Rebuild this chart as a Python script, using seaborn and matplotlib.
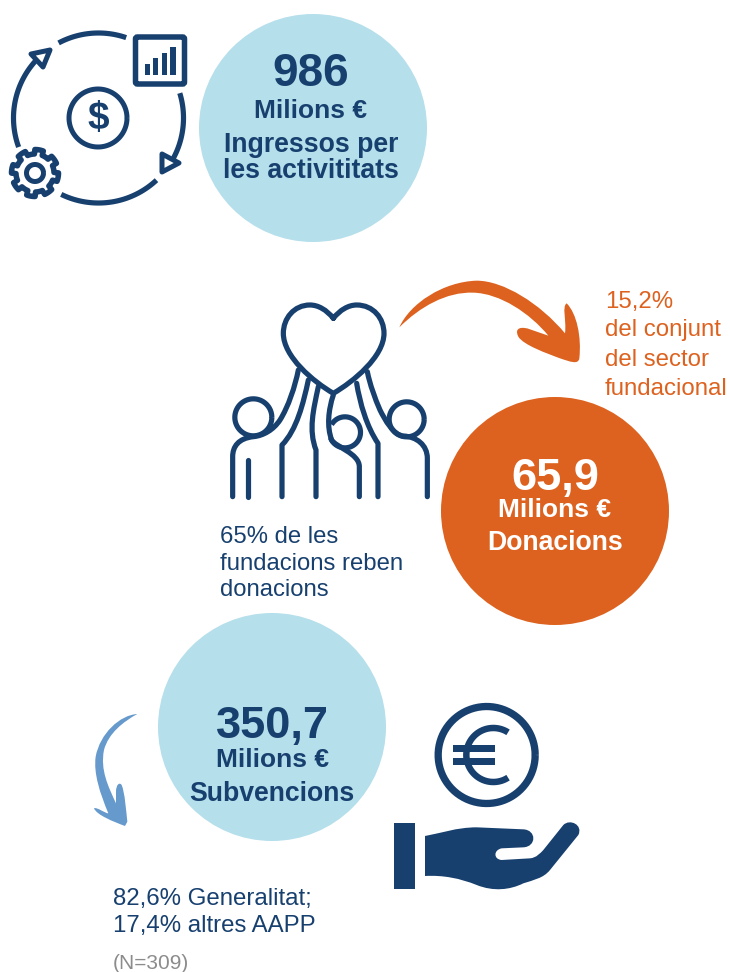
import numpy as np
import pandas as pd
import seaborn as sns
import matplotlib.pyplot as plt
from matplotlib.path import Path
from matplotlib.patches import PathPatch, Polygon, FancyBboxPatch, Rectangle

# Data
concepts = ["Ingressos per\nles activititats", "Donacions", "Subvencions"]
values = [986, 65.9, 350.7]
unit = "Milions €"
donation_note = ["15,2%", "del conjunt", "del sector", "fundacional"]
share_note = ["65% de les", "fundacions reben", "donacions"]
public_note = ["82,6% Generalitat;", "17,4% altres AAPP"]
sample_note = "(N=309)"

# Colours
NAVY = "#17406F"
LIGHT = "#B5DFEB"
ORANGE = "#DD621F"
BLUE_ARROW = "#6699CC"
GREY = "#8C8C8C"

# Layout, in pixels of the 730x972 picture
circle_x = [313, 555, 272]
circle_y = [128, 511, 727]
circle_colors = [LIGHT, ORANGE, LIGHT]
PX = 0.72  # points per pixel at dpi 100

sns.set_theme(style="white")
plt.rcParams["font.family"] = ["Liberation Sans", "DejaVu Sans"]

fig, ax = plt.subplots(figsize=(7.3, 9.72), dpi=100)
fig.subplots_adjust(0, 0, 1, 1)

df = pd.DataFrame({"concept": concepts, "value": values, "x": circle_x, "y": circle_y})
sns.scatterplot(data=df, x="x", y="y", hue="concept", palette=circle_colors,
                s=(228 * PX) ** 2, linewidth=0, legend=False, ax=ax, zorder=1)
ax.set_xlim(0, 730)
ax.set_ylim(972, 0)
ax.set_axis_off()


def bezier(d, ox, oy, k=1 / 3):
    # d is a list of "M", "L", "C" commands with points in zoomed crop pixels
    verts, codes = [], []
    for cmd, *pts in d:
        pts = [(ox + px * k, oy + py * k) for px, py in pts]
        verts += pts
        if cmd == "M":
            codes.append(Path.MOVETO)
        elif cmd == "L":
            codes.append(Path.LINETO)
        else:
            codes += [Path.CURVE4] * 3
    return Path(verts, codes)


def stroke(d, ox, oy, lw=5.2, color=NAVY):
    ax.add_patch(PathPatch(bezier(d, ox, oy), fc="none", ec=color, lw=lw * PX,
                           capstyle="round", joinstyle="round", zorder=3))


def fill(d, ox, oy, color):
    ax.add_patch(PathPatch(bezier(d, ox, oy), fc=color, ec="none", zorder=3))


def arc(cx, cy, r, a0, a1, lw=5.2, color=NAVY):
    t = np.radians(np.linspace(a0, a1, 80))
    ax.plot(cx + r * np.cos(t), cy + r * np.sin(t), color=color, lw=lw * PX,
            solid_capstyle="butt", zorder=3)


# Cycle icon, top left
arc(98.5, 118, 85, -118, -71)
arc(98.5, 118, 85, -17, 31)
arc(98.5, 118, 85, 47, 116)
arc(98.5, 118, 85, 160, 222)
for tri in ([(162, 154), (179, 163), (162, 172)], [(31, 54), (50, 50), (43, 67)]):
    ax.add_patch(Polygon(tri, closed=True, fc="white", ec=NAVY, lw=5 * PX, joinstyle="round", zorder=3))
ax.add_patch(FancyBboxPatch((135.5, 37), 49, 47, boxstyle="round,pad=0,rounding_size=2",
                            fc="white", ec=NAVY, lw=5.5 * PX, zorder=3))
for x0, x1, top in [(145, 150, 64), (153, 158, 58), (162, 167, 53), (170, 176, 47)]:
    ax.add_patch(Rectangle((x0, top), x1 - x0, 75 - top, fc=NAVY, ec="none", zorder=4))
arc(98, 118, 29, 0, 360, lw=5)
ax.text(98, 119, "$", ha="center", va="center", color=NAVY, fontsize=28, fontweight="bold", zorder=4)

# Gear
teeth = 8
ang = np.linspace(0, 2 * np.pi, 8 * 30, endpoint=False)
phase = (ang * teeth / (2 * np.pi)) % 1
rad = np.where((phase < 0.36) | (phase > 0.84), 23.5, 19)
ax.add_patch(Polygon(np.column_stack([35 + rad * np.cos(ang + 0.1), 173 + rad * np.sin(ang + 0.1)]),
                     closed=True, fc="white", ec=NAVY, lw=5.5 * PX, joinstyle="round", zorder=3))
arc(35, 173, 8.5, 0, 360, lw=5)

# Heart and people icon
O2 = (220, 270)
stroke([("M", (340, 145)), ("C", (360, 120), (385, 105), (410, 105)),
        ("C", (460, 105), (492, 145), (492, 190)), ("C", (492, 260), (400, 335), (340, 370)),
        ("C", (280, 335), (190, 260), (190, 190)), ("C", (190, 145), (222, 105), (270, 105)),
        ("C", (295, 105), (320, 120), (340, 145))], *O2)
arc(220 + 100 / 3, 270 + 442 / 3, 18.5, 0, 360)
arc(220 + 560 / 3, 270 + 448 / 3, 17.5, 0, 360)
arc(220 + 375 / 3, 270 + 487 / 3, 15.5, -150, 160)
stroke([("M", (38, 680)), ("L", (38, 560)), ("C", (38, 530), (55, 505), (100, 500)),
        ("C", (130, 497), (160, 480), (180, 450)), ("C", (205, 410), (225, 350), (235, 300))], *O2)
stroke([("M", (83, 570)), ("L", (83, 680))], *O2)
stroke([("M", (186, 680)), ("L", (186, 525)), ("C", (230, 480), (250, 400), (265, 330))], *O2)
stroke([("M", (288, 680)), ("L", (288, 540)), ("C", (265, 480), (280, 420), (295, 350))], *O2)
stroke([("M", (340, 375)), ("C", (325, 420), (320, 470), (335, 510)),
        ("C", (345, 530), (418, 550), (418, 590)), ("L", (418, 680))], *O2)
stroke([("M", (474, 680)), ("L", (474, 520)), ("C", (440, 470), (420, 400), (410, 340))], *O2)
stroke([("M", (622, 680)), ("L", (622, 565)), ("C", (622, 525), (590, 500), (550, 498)),
        ("C", (520, 495), (495, 450), (480, 420)), ("C", (465, 385), (450, 345), (442, 305))], *O2)

# Curved arrows
fill([("M", (28, 172)), ("C", (60, 100), (160, 35), (260, 32)), ("C", (340, 32), (450, 100), (525, 190)),
      ("C", (530, 150), (515, 110), (530, 100)), ("C", (560, 130), (575, 200), (568, 265)),
      ("C", (565, 285), (540, 275), (510, 265)), ("C", (470, 250), (400, 225), (385, 200)),
      ("C", (370, 170), (400, 170), (420, 178)), ("L", (475, 197)),
      ("C", (420, 130), (330, 70), (250, 68)), ("C", (170, 65), (90, 110), (28, 172))], 390, 270, ORANGE)
fill([("M", (172, 42)), ("C", (120, 45), (60, 100), (47, 170)), ("C", (40, 220), (60, 280), (85, 340)),
      ("C", (75, 340), (50, 320), (42, 325)), ("C", (50, 345), (100, 365), (135, 378)), ("L", (142, 365)),
      ("C", (138, 330), (135, 280), (125, 255)), ("C", (118, 245), (108, 255), (108, 275)), ("L", (108, 310)),
      ("C", (85, 260), (60, 210), (72, 150)), ("C", (85, 100), (130, 65), (172, 42))], 80, 700, BLUE_ARROW)

# Euro coin and hand
O3 = (380, 690)
arc(380 + 320 / 3, 690 + 195 / 3, 48.5, 0, 360, lw=7.3)
arc(380 + 340 / 3, 690 + 195 / 3, 27, 57, 303, lw=6.5)
ax.add_patch(Rectangle((380 + 220 / 3, 690 + 165 / 3), 125 / 3, 20 / 3, fc=NAVY, ec="none", zorder=3))
ax.add_patch(Rectangle((380 + 220 / 3, 690 + 205 / 3), 125 / 3, 20 / 3, fc=NAVY, ec="none", zorder=3))
ax.add_patch(Rectangle((380 + 43 / 3, 690 + 400 / 3), 62 / 3, 198 / 3, fc=NAVY, ec="none", zorder=3))
fill([("M", (135, 438)), ("C", (180, 430), (230, 412), (290, 412)), ("L", (430, 418)),
      ("C", (470, 420), (470, 470), (430, 472)), ("L", (365, 475)), ("C", (340, 480), (340, 508), (365, 510)),
      ("L", (450, 505)), ("C", (470, 503), (480, 490), (490, 480)), ("L", (550, 405)),
      ("C", (570, 385), (610, 405), (595, 435)), ("L", (510, 540)), ("C", (490, 565), (460, 570), (430, 580)),
      ("C", (390, 600), (340, 605), (290, 585)), ("C", (240, 565), (190, 555), (135, 558)), ("L", (135, 438))],
     *O3, NAVY)


def label(x, y, s, size, color=NAVY, bold=True, ha="center"):
    ax.text(x, y, s, ha=ha, va="center_baseline", fontsize=size, color=color,
            fontweight="bold" if bold else "normal", zorder=5)


def number(v):
    return str(v).replace(".", ",")


# Circle texts
label(311, 69, number(values[0]), 33)
label(311, 108, unit, 19)
label(311, 142, concepts[0].split("\n")[0], 19.2)
label(311, 168, concepts[0].split("\n")[1], 19.2)
label(555, 474, number(values[1]), 32.5, "white")
label(555, 507, unit, 19, "white")
label(555, 540, concepts[1], 19.2, "white")
label(272, 722, number(values[2]), 32.5)
label(272, 757, unit, 19)
label(272, 791, concepts[2], 19.2)

# Notes
for y, s in zip([299, 327, 357, 386], donation_note):
    label(605, y, s, 17.3, ORANGE, bold=False, ha="left")
for y, s in zip([534, 561, 587], share_note):
    label(220, y, s, 17.2, bold=False, ha="left")
for y, s in zip([896, 923], public_note):
    label(113, y, s, 17.3, bold=False, ha="left")
label(113, 961, sample_note, 15, GREY, bold=False, ha="left")

fig.savefig("out.png", dpi=100)
plt.close()
